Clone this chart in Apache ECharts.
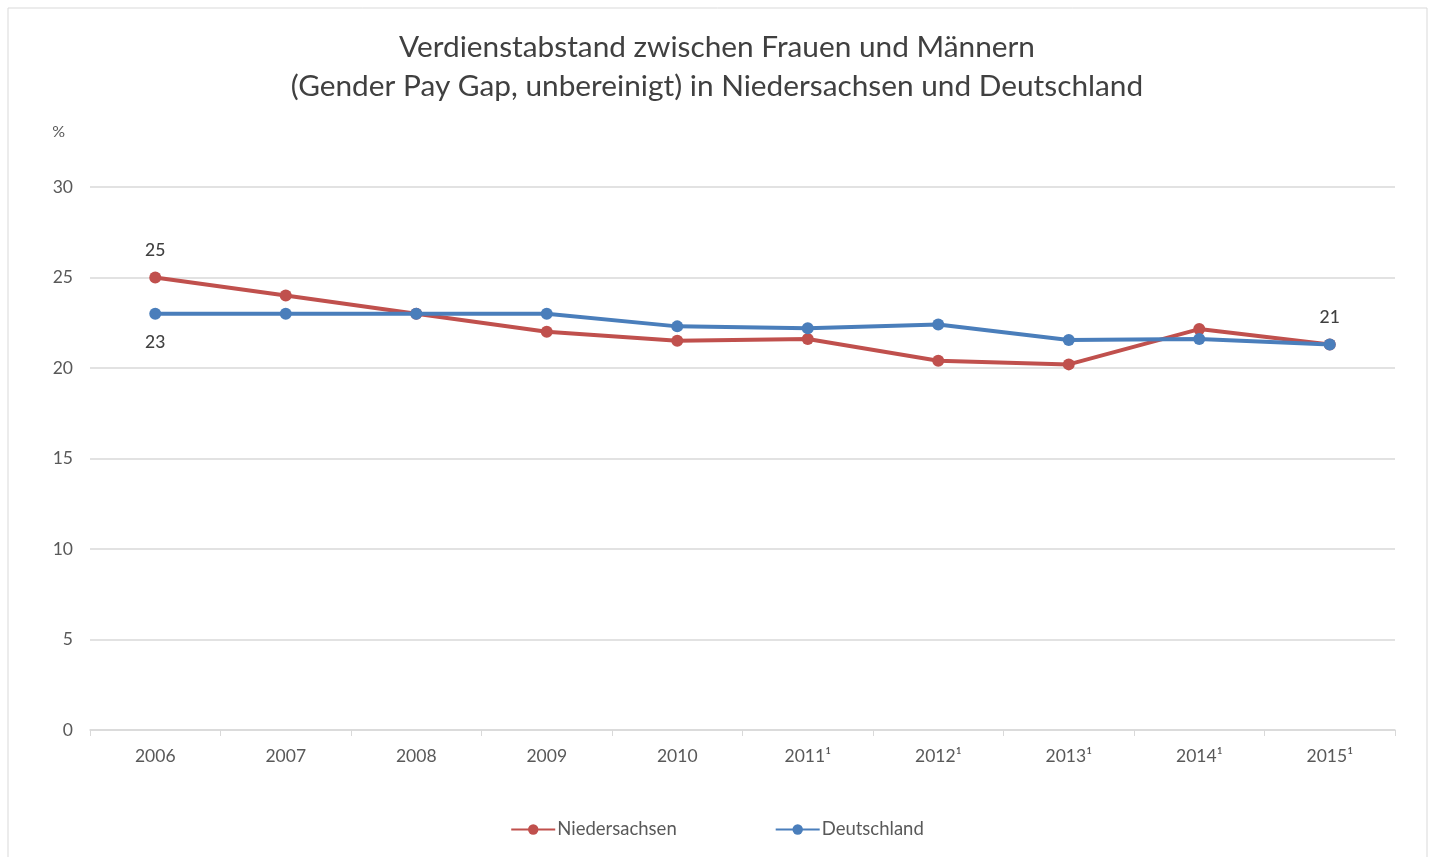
<!DOCTYPE html>
<html>
<head>
<meta charset="utf-8">
<script src="https://cdn.jsdelivr.net/npm/echarts@6/dist/echarts.min.js"></script>
<style>html,body{margin:0;padding:0;background:#fff;}#c{width:1434px;height:857px;}</style>
</head>
<body>
<div id="c"></div>
<script>
const years = ['2006','2007','2008','2009','2010','2011¹','2012¹','2013¹','2014¹','2015¹'];
const niedersachsen = [25, 24, 23, 22, 21.5, 21.6, 20.4, 20.2, 22.15, 21.3];
const deutschland = [23, 23, 23, 23, 22.3, 22.2, 22.4, 21.55, 21.6, 21.3];
const yTicks = [0, 5, 10, 15, 20, 25, 30];

const chart = echarts.init(document.getElementById('c'));
const font = 'Lato, "Open Sans", sans-serif';
chart.setOption({
  animation: false,
  backgroundColor: '#fff',
  graphic: [{type:'rect', shape:{x:8,y:8,width:1419,height:860}, style:{fill:'none', stroke:'#d9d9d9', lineWidth:1}}],
  title: {
    text: 'Verdienstabstand zwischen Frauen und Männern\n(Gender Pay Gap, unbereinigt) in Niedersachsen und Deutschland',
    left: 'center', top: 23,
    textStyle: {fontFamily: font, fontSize: 29.8, fontWeight: 'normal', color: '#404040', lineHeight: 39}
  },
  legend: {
    bottom: 13, left: 'center', itemGap: 98, itemWidth: 44, itemHeight: 13,
    textStyle: {fontFamily: font, fontSize: 18.5, color: '#595959', padding: [0, 0, 0, -3]},
    data: ['Niedersachsen', 'Deutschland']
  },
  grid: {left: 90, right: 39, top: 187, bottom: 127},
  xAxis: {
    type: 'category', data: years, boundaryGap: true,
    axisLine: {lineStyle: {color: '#d9d9d9', width: 1.5}},
    axisTick: {show: true, length: 6, lineStyle: {color: '#d9d9d9'}},
    axisLabel: {fontFamily: font, fontSize: 17.5, color: '#595959', margin: 17}
  },
  yAxis: {
    type: 'value', min: 0, max: 30, interval: 5,
    name: '%', nameLocation: 'end', nameGap: 47,
    nameTextStyle: {fontFamily: font, fontSize: 16, color: '#595959', align: 'right', padding: [0, 25, 0, 0]},
    axisLine: {show: false}, axisTick: {show: false},
    splitLine: {lineStyle: {color: '#d9d9d9', width: 1.5}},
    axisLabel: {fontFamily: font, fontSize: 17.5, color: '#595959', margin: 17,
      formatter: v => yTicks.includes(v) ? String(v) : ''}
  },
  series: [
    {
      name: 'Niedersachsen', type: 'line', data: niedersachsen.map((v, i) => i === 0 ? {value: v, label: {show: true, position: 'top', distance: 12}} : v),
      color: '#c0504d', lineStyle: {width: 4}, symbol: 'circle', symbolSize: 12,
      label: {show: false, fontFamily: font, fontSize: 17.5, fontWeight: 500, color: '#404040', formatter: p => Math.round(p.value)},
      z: 2
    },
    {
      name: 'Deutschland', type: 'line',
      data: deutschland.map((v, i) => i === 0 ? {value: v, label: {show: true, position: 'bottom', distance: 14}} : (i === deutschland.length - 1 ? {value: v, label: {show: true, position: 'top', distance: 12}} : v)),
      color: '#4a7ebb', lineStyle: {width: 4}, symbol: 'circle', symbolSize: 12,
      label: {show: false, fontFamily: font, fontSize: 17.5, fontWeight: 500, color: '#404040', formatter: p => Math.round(p.value)},
      z: 3
    }
  ]
});
</script>
</body>
</html>
